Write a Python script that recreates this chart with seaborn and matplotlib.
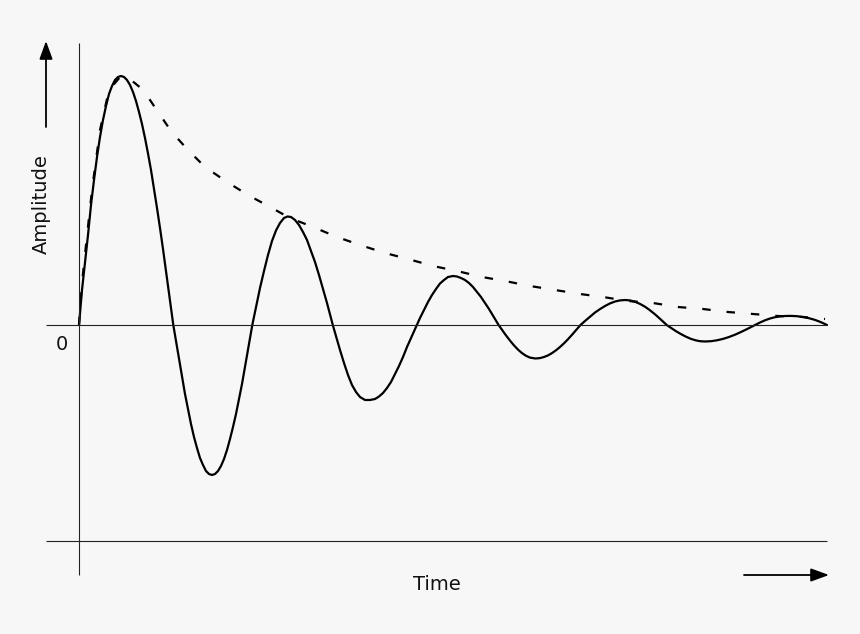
import numpy as np
import pandas as pd
import seaborn as sns
import matplotlib.pyplot as plt

# Damped oscillation (arbitrary units, no ticks on the chart)
t_signal = [0, 3, 6, 9, 12, 15, 18, 21, 24, 27, 30, 33, 36, 39, 42,
            45, 48, 51, 54, 57, 60, 63, 66, 69, 72, 75, 78, 81, 84, 87, 90, 94.3,
            97, 100, 103, 106, 109, 112, 115, 118, 121, 124, 127, 130, 133,
            136, 139, 142, 145, 148, 151, 154, 157, 160, 163, 166, 169, 173.3,
            177, 181, 185, 189, 193, 197, 201, 205, 208.5,
            212, 216, 220, 224, 228, 232, 236, 240, 244, 248, 253.8,
            257, 261, 265, 269, 273, 277, 281, 286, 291,
            296, 300, 304, 308, 312, 316, 320, 324, 328, 332, 337.7,
            341, 345, 349, 353, 357, 361, 365, 369, 374,
            378, 382, 386, 390, 394, 398, 402, 406, 410, 414, 419.6,
            423, 427, 431, 435, 439, 443, 447, 451, 456.5,
            461, 465, 469, 473, 477, 481, 485, 489, 493, 497, 501.5,
            506, 511, 516, 521, 526, 531, 536, 541, 546,
            551, 556, 561, 566, 571, 576, 581, 587.7,
            592, 597, 602, 607, 612, 617, 621, 626,
            632, 638, 644, 650, 656, 662, 668, 676,
            681, 686, 691, 696, 701, 706, 712, 718, 724, 730, 736, 742, 748]
a_signal = [0, 35, 62, 90, 120, 145, 168, 188, 205, 219, 231, 239, 245, 248, 249,
            248, 245, 240, 233, 224, 213, 201, 187, 171.5, 155, 136, 117, 97, 76, 54, 32, 0,
            -16, -34, -52, -69, -84, -99, -112, -123, -133, -140, -146, -149, -150,
            -149, -146, -141, -134, -125, -114, -102, -89, -74, -59, -42, -25, 0,
            18, 37, 54, 70, 84, 94.5, 102, 107, 108.5,
            108, 105, 100, 93, 85, 74, 63, 50, 36, 22, 0,
            -11, -25, -38, -50, -60, -67, -72, -75, -75,
            -74, -71.5, -68, -63, -57, -49, -41, -32, -22, -13, 0,
            7, 15, 23, 30, 36, 41.5, 45, 48, 49,
            48.5, 47, 45, 42, 38, 33, 28, 22, 16, 9.4, 0,
            -4.8, -10.4, -15.6, -20.4, -24.6, -28.1, -30.8, -32.6, -33.5,
            -33.1, -32, -30.4, -28.1, -25.3, -22, -18.3, -14.2, -9.8, -5.2, 0,
            4, 8.2, 12.5, 15.9, 19, 21.6, 23.5, 24.6, 25,
            24.6, 23.2, 21.1, 18.3, 14.7, 10.7, 6.2, 0,
            -2.9, -6.2, -9.1, -11.7, -13.9, -15.4, -16.2, -16.5,
            -16.2, -15.3, -13.9, -12, -9.7, -7, -4.1, 0,
            2.5, 4.7, 6.5, 7.8, 8.6, 9, 9.1, 8.8, 8, 6.8, 5.1, 2.8, 0]

# Decay envelope (dashed)
t_env = [0, 3, 7, 13, 21, 30, 42, 52, 64.3, 77.7, 92.7, 109, 126, 148, 169, 191,
         211, 234, 258, 281, 306, 329, 354, 378, 403, 426, 451, 476, 501, 524,
         549, 574, 599, 624, 649, 674, 699, 724, 746]
a_env = [0, 42, 80, 135, 195, 235, 249, 245, 235, 215, 193, 175, 158, 143, 130, 118,
         107, 98, 88, 80, 72, 66, 59, 54, 48, 44, 39, 35, 31, 28,
         24, 22, 18, 16, 13, 11, 9, 8, 6]

df_sig = pd.DataFrame({"time": t_signal, "amplitude": a_signal})
df_env = pd.DataFrame({"time": t_env, "amplitude": a_env})

sns.set_theme(style="white")
plt.rcParams['font.family'] = ['DejaVu Sans']
bg = "#f7f7f7"

fig = plt.figure(figsize=(8.6, 6.34), dpi=100, facecolor=bg)
ax = fig.add_axes([0, 0, 1, 1], facecolor=bg)

sns.lineplot(data=df_env, x="time", y="amplitude", ax=ax, color="black",
             lw=1.6, linestyle=(0, (3.8, 7.2)), sort=False)
sns.lineplot(data=df_sig, x="time", y="amplitude", ax=ax, color="black",
             lw=1.6, sort=False)

# hand drawn axes, like the original sketch
ax.hlines([0, -216], -33, 748, color="#222222", lw=0.8)
ax.vlines(0, -250, 282, color="#222222", lw=0.8)

arrow = dict(arrowstyle="-|>,head_length=0.55,head_width=0.2", color="black",
             lw=1.3, mutation_scale=20, shrinkA=0, shrinkB=0)
ax.annotate("", xy=(-33, 284), xytext=(-33, 198), arrowprops=arrow)
ax.annotate("", xy=(750, -250), xytext=(665, -250), arrowprops=arrow)

ax.text(-38, 121, "Amplitude", rotation=90, ha="center", va="center",
        fontsize=14, color="#111111")
ax.text(-17, -20, "0", ha="center", va="center", fontsize=14, color="#111111")
ax.text(358, -260, "Time", ha="center", va="center", fontsize=14, color="#111111")

ax.set_xlim(-79, 781)
ax.set_ylim(-309, 325)
ax.set_axis_off()

fig.savefig("out.png", dpi=100, facecolor=bg)
